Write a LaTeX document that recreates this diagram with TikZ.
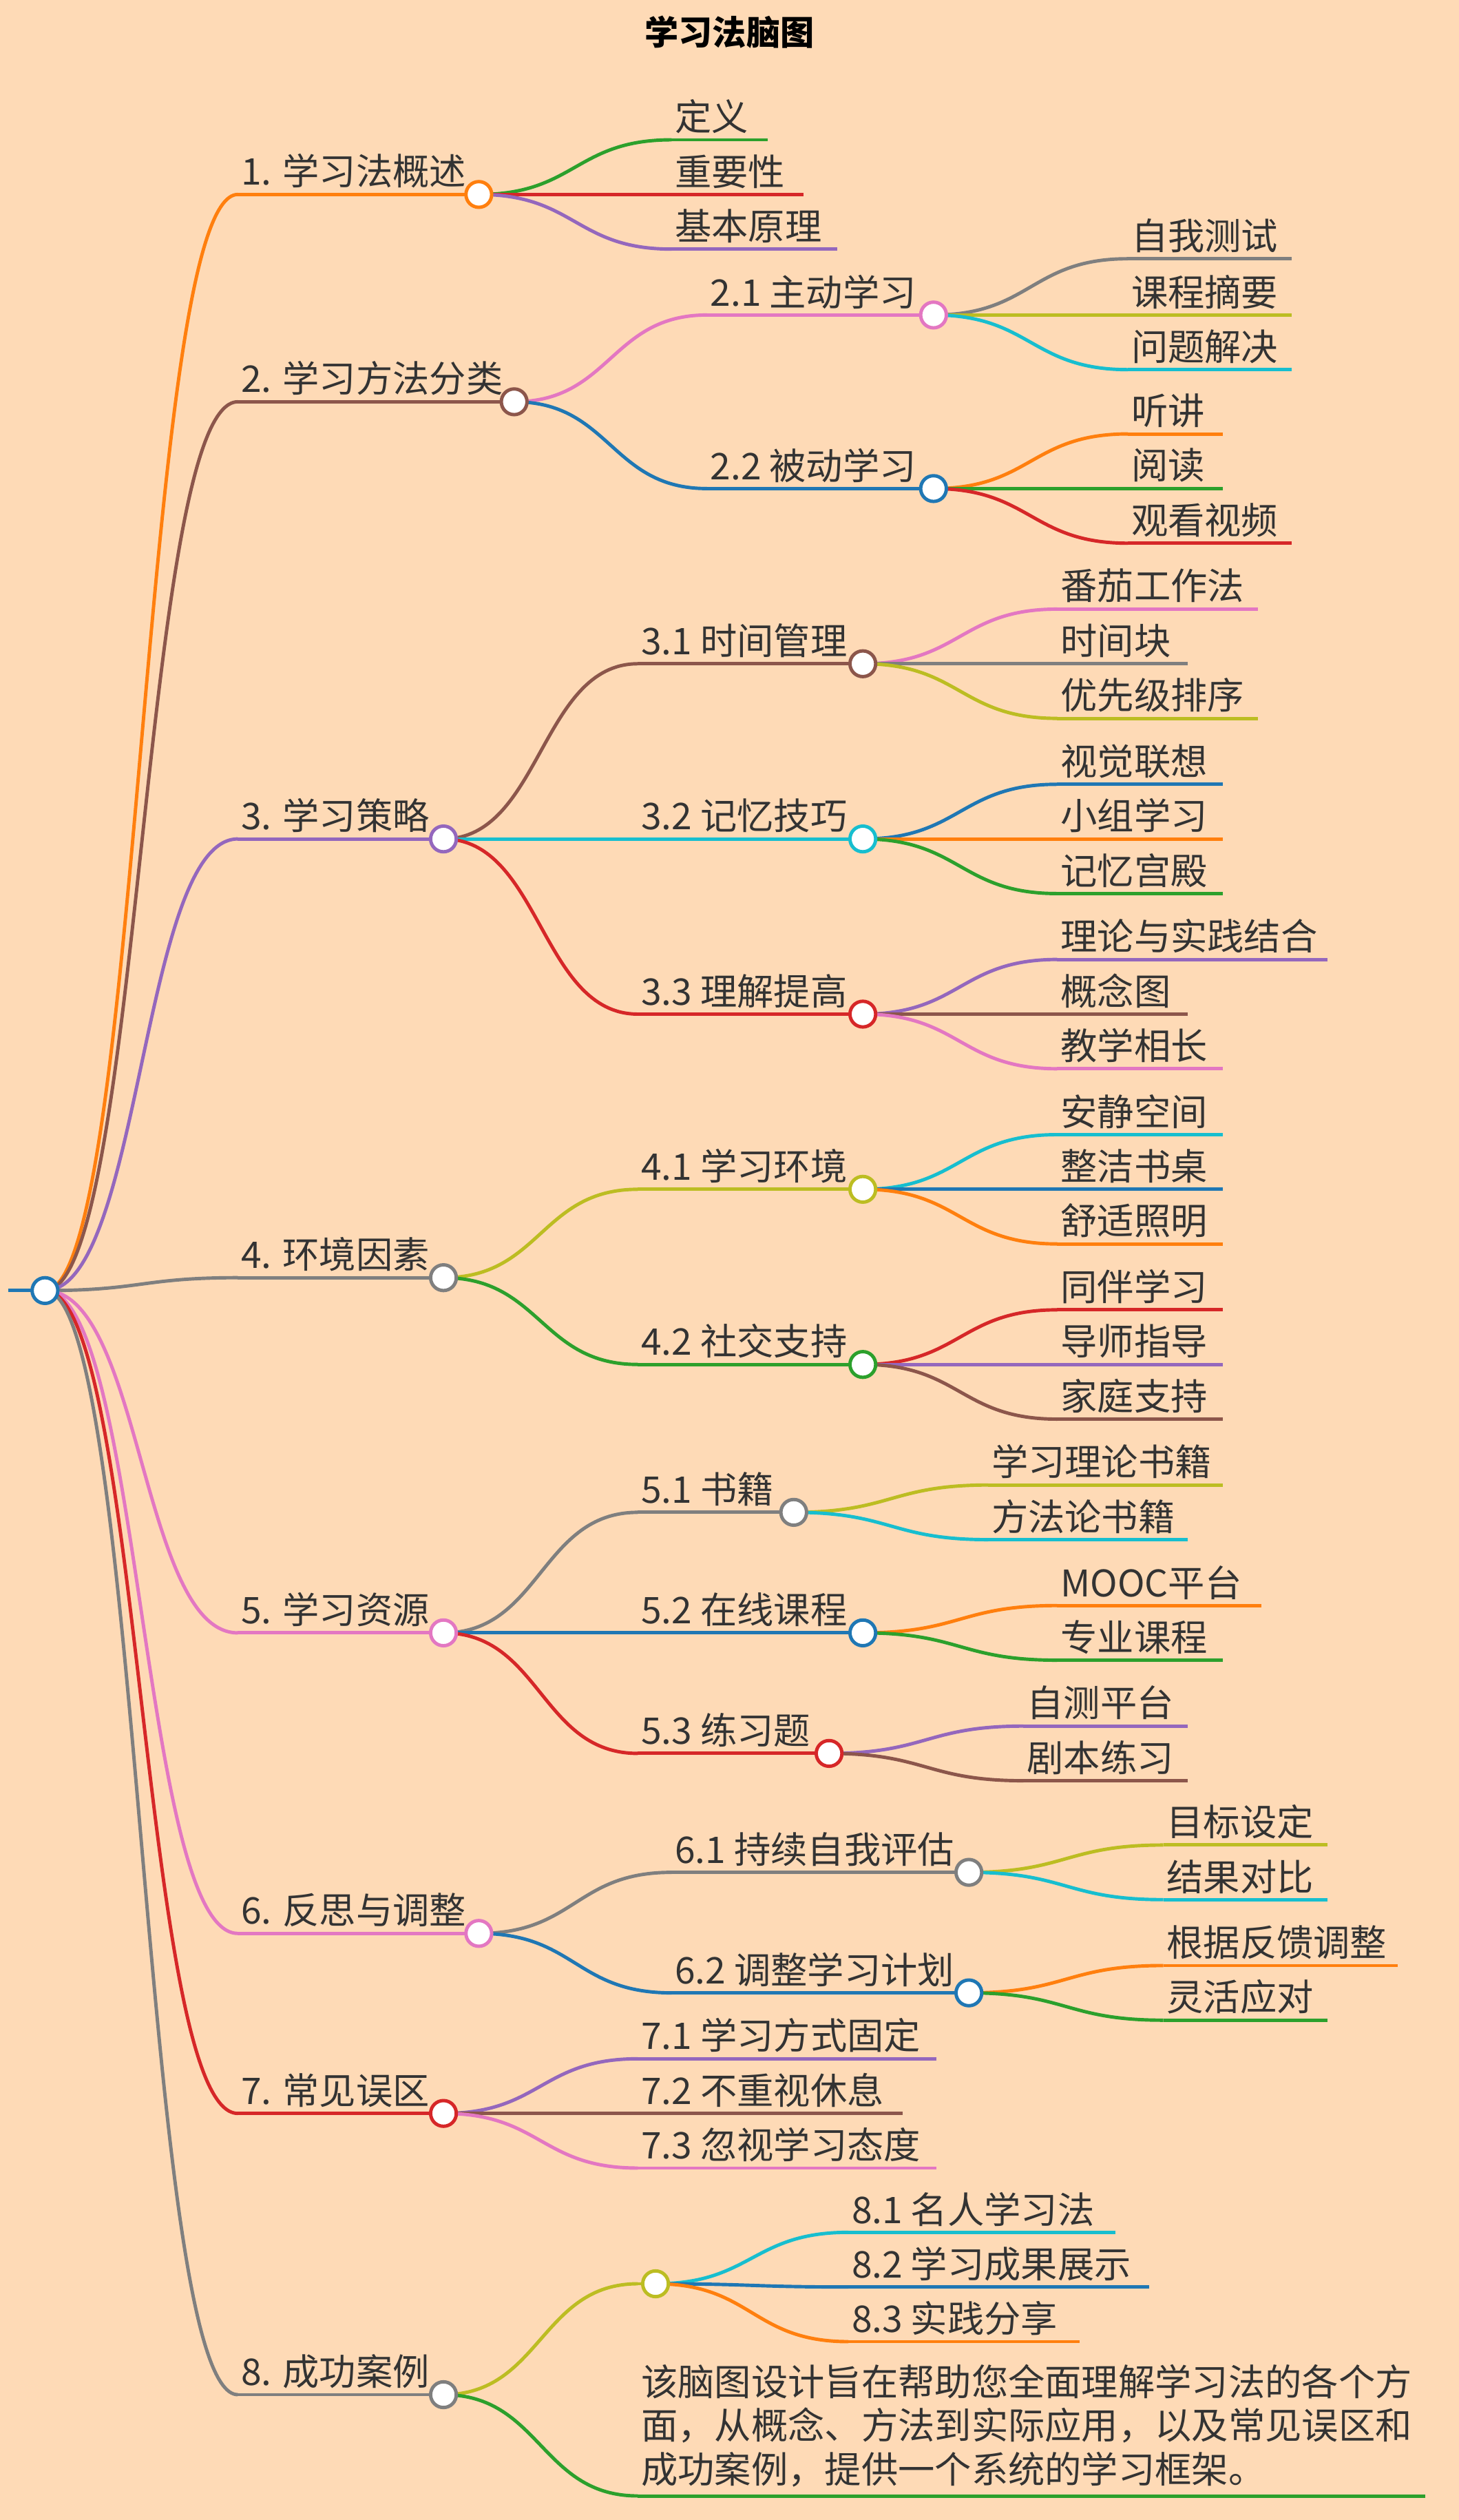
\documentclass[tikz,border=0pt]{standalone}
\usepackage{fontspec}
\setmainfont{Noto Sans CJK SC}
\usetikzlibrary{calc}
\definecolor{bgpeach}{HTML}{FEDAB6}
\definecolor{cOrange}{HTML}{FF7F0E}
\definecolor{cBrown}{HTML}{8C564B}
\definecolor{cPurple}{HTML}{9467BD}
\definecolor{cGray}{HTML}{7F7F7F}
\definecolor{cPink}{HTML}{E377C2}
\definecolor{cRed}{HTML}{D62728}
\definecolor{cGreen}{HTML}{2CA02C}
\definecolor{cBlue}{HTML}{1F77B4}
\definecolor{cOlive}{HTML}{BCBD22}
\definecolor{cCyan}{HTML}{17BECF}
\definecolor{txt}{HTML}{333333}
\tikzset{
  lbl/.style={font=\fontsize{13}{16}\selectfont, text=txt, inner sep=1pt, anchor=south west},
  edge/.style={line width=1.2pt},
  dot/.style={line width=1.2pt}
}
% one entry: line under its text
\newcommand\mmnode[6]{%
  \coordinate (#1-s) at (#2,#4); \coordinate (#1) at (#3,#4);
  \draw[edge,#5] (#1-s) -- (#1);
  \node[lbl] (#1-t) at ([yshift=1pt]#1-s) {#6};}
\newcommand\mmlink[3]{\draw[edge,#3] let \p1=(#1), \p2=(#2-s) in
  (#1) .. controls (\x1/2+\x2/2,\y1) and (\x1/2+\x2/2,\y2) .. (#2-s);}
\newcommand\mmdot[2]{\draw[dot,#2,fill=white] (#1) circle (8);}
\begin{document}
\begin{tikzpicture}[x=0.02cm,y=-0.02cm]
  \useasboundingbox (0,0) rectangle (908,1568);
  \fill[bgpeach] (0,0) rectangle (908,1568);
  \node[font=\bfseries\fontsize{12}{14}\selectfont] (title) at (454,20) {学习法脑图};

  % root
  \coordinate (r-s) at (5,803); \coordinate (r) at (28,803);
  \draw[edge,cBlue] (r-s) -- (r);

  % level 1
  \mmnode{a}{148}{298}{121}{cOrange}{1. 学习法概述}
  \mmnode{b}{148}{320}{250}{cBrown}{2. 学习方法分类}
  \mmnode{c}{148}{276}{522}{cPurple}{3. 学习策略}
  \mmnode{d}{148}{276}{795}{cGray}{4. 环境因素}
  \mmnode{e}{148}{276}{1016}{cPink}{5. 学习资源}
  \mmnode{f}{148}{298}{1203}{cPink}{6. 反思与调整}
  \mmnode{g}{148}{276}{1315}{cRed}{7. 常见误区}
  \mmnode{h}{148}{276}{1490}{cGray}{8. 成功案例}
  \mmlink{r}{a}{cOrange} \mmlink{r}{b}{cBrown} \mmlink{r}{c}{cPurple}
  \mmlink{r}{d}{cGray} \mmlink{r}{e}{cPink} \mmlink{r}{f}{cPink}
  \mmlink{r}{g}{cRed} \mmlink{r}{h}{cGray}

  % 1
  \mmnode{a1}{418}{478}{87}{cGreen}{定义}
  \mmnode{a2}{418}{500}{121}{cRed}{重要性}
  \mmnode{a3}{418}{521}{155}{cPurple}{基本原理}
  \mmlink{a}{a1}{cGreen} \mmlink{a}{a2}{cRed} \mmlink{a}{a3}{cPurple}

  % 2
  \mmnode{b1}{440}{581}{196}{cPink}{2.1 主动学习}
  \mmnode{b2}{440}{581}{304}{cBlue}{2.2 被动学习}
  \mmlink{b}{b1}{cPink} \mmlink{b}{b2}{cBlue}
  \mmnode{b11}{702}{804}{161}{cGray}{自我测试}
  \mmnode{b12}{702}{804}{196}{cOlive}{课程摘要}
  \mmnode{b13}{702}{804}{230}{cCyan}{问题解决}
  \mmlink{b1}{b11}{cGray} \mmlink{b1}{b12}{cOlive} \mmlink{b1}{b13}{cCyan}
  \mmnode{b21}{702}{761}{270}{cOrange}{听讲}
  \mmnode{b22}{702}{761}{304}{cGreen}{阅读}
  \mmnode{b23}{702}{804}{338}{cRed}{观看视频}
  \mmlink{b2}{b21}{cOrange} \mmlink{b2}{b22}{cGreen} \mmlink{b2}{b23}{cRed}

  % 3
  \mmnode{c1}{397}{537}{413}{cBrown}{3.1 时间管理}
  \mmnode{c2}{397}{537}{522}{cCyan}{3.2 记忆技巧}
  \mmnode{c3}{397}{537}{631}{cRed}{3.3 理解提高}
  \mmlink{c}{c1}{cBrown} \mmlink{c}{c2}{cCyan} \mmlink{c}{c3}{cRed}
  \mmnode{c11}{658}{783}{379}{cPink}{番茄工作法}
  \mmnode{c12}{658}{739}{413}{cGray}{时间块}
  \mmnode{c13}{658}{783}{447}{cOlive}{优先级排序}
  \mmlink{c1}{c11}{cPink} \mmlink{c1}{c12}{cGray} \mmlink{c1}{c13}{cOlive}
  \mmnode{c21}{658}{761}{488}{cBlue}{视觉联想}
  \mmnode{c22}{658}{761}{522}{cOrange}{小组学习}
  \mmnode{c23}{658}{761}{556}{cGreen}{记忆宫殿}
  \mmlink{c2}{c21}{cBlue} \mmlink{c2}{c22}{cOrange} \mmlink{c2}{c23}{cGreen}
  \mmnode{c31}{658}{826}{597}{cPurple}{理论与实践结合}
  \mmnode{c32}{658}{739}{631}{cBrown}{概念图}
  \mmnode{c33}{658}{761}{665}{cPink}{教学相长}
  \mmlink{c3}{c31}{cPurple} \mmlink{c3}{c32}{cBrown} \mmlink{c3}{c33}{cPink}

  % 4
  \mmnode{d1}{397}{537}{740}{cOlive}{4.1 学习环境}
  \mmnode{d2}{397}{537}{849}{cGreen}{4.2 社交支持}
  \mmlink{d}{d1}{cOlive} \mmlink{d}{d2}{cGreen}
  \mmnode{d11}{658}{761}{706}{cCyan}{安静空间}
  \mmnode{d12}{658}{761}{740}{cBlue}{整洁书桌}
  \mmnode{d13}{658}{761}{774}{cOrange}{舒适照明}
  \mmlink{d1}{d11}{cCyan} \mmlink{d1}{d12}{cBlue} \mmlink{d1}{d13}{cOrange}
  \mmnode{d21}{658}{761}{815}{cRed}{同伴学习}
  \mmnode{d22}{658}{761}{849}{cPurple}{导师指导}
  \mmnode{d23}{658}{761}{883}{cBrown}{家庭支持}
  \mmlink{d2}{d21}{cRed} \mmlink{d2}{d22}{cPurple} \mmlink{d2}{d23}{cBrown}

  % 5
  \mmnode{e1}{397}{494}{941}{cGray}{5.1 书籍}
  \mmnode{e2}{397}{537}{1016}{cBlue}{5.2 在线课程}
  \mmnode{e3}{397}{516}{1091}{cRed}{5.3 练习题}
  \mmlink{e}{e1}{cGray} \mmlink{e}{e2}{cBlue} \mmlink{e}{e3}{cRed}
  \mmnode{e11}{615}{761}{924}{cOlive}{学习理论书籍}
  \mmnode{e12}{615}{739}{958}{cCyan}{方法论书籍}
  \mmlink{e1}{e11}{cOlive} \mmlink{e1}{e12}{cCyan}
  \mmnode{e21}{658}{785}{999}{cOrange}{MOOC平台}
  \mmnode{e22}{658}{761}{1033}{cGreen}{专业课程}
  \mmlink{e2}{e21}{cOrange} \mmlink{e2}{e22}{cGreen}
  \mmnode{e31}{637}{739}{1074}{cPurple}{自测平台}
  \mmnode{e32}{637}{739}{1108}{cBrown}{剧本练习}
  \mmlink{e3}{e31}{cPurple} \mmlink{e3}{e32}{cBrown}

  % 6
  \mmnode{f1}{418}{603}{1165}{cGray}{6.1 持续自我评估}
  \mmnode{f2}{418}{603}{1240}{cBlue}{6.2 调整学习计划}
  \mmlink{f}{f1}{cGray} \mmlink{f}{f2}{cBlue}
  \mmnode{f11}{724}{826}{1148}{cOlive}{目标设定}
  \mmnode{f12}{724}{826}{1182}{cCyan}{结果对比}
  \mmlink{f1}{f11}{cOlive} \mmlink{f1}{f12}{cCyan}
  \mmnode{f21}{724}{870}{1223}{cOrange}{根据反馈调整}
  \mmnode{f22}{724}{826}{1257}{cGreen}{灵活应对}
  \mmlink{f2}{f21}{cOrange} \mmlink{f2}{f22}{cGreen}

  % 7
  \mmnode{g1}{397}{583}{1281}{cPurple}{7.1 学习方式固定}
  \mmnode{g2}{397}{562}{1315}{cBrown}{7.2 不重视休息}
  \mmnode{g3}{397}{583}{1349}{cPink}{7.3 忽视学习态度}
  \mmlink{g}{g1}{cPurple} \mmlink{g}{g2}{cBrown} \mmlink{g}{g3}{cPink}

  % 8
  \mmnode{h1}{397}{408}{1421}{cOlive}{}
  \mmnode{h2}{397}{887}{1553}{cGreen}{}
  \mmlink{h}{h1}{cOlive} \mmlink{h}{h2}{cGreen}
  \node[lbl, align=left, font=\fontsize{13}{15.5}\selectfont] (h2-p) at ([yshift=2pt]h2-s)
    {该脑图设计旨在帮助您全面理解学习法的各个方\\面，从概念、方法到实际应用，以及常见误区和\\成功案例，提供一个系统的学习框架。};
  \mmnode{h11}{528}{694}{1389}{cCyan}{8.1 名人学习法}
  \mmnode{h12}{528}{715}{1423}{cBlue}{8.2 学习成果展示}
  \mmnode{h13}{528}{672}{1457}{cOrange}{8.3 实践分享}
  \mmlink{h1}{h11}{cCyan} \mmlink{h1}{h12}{cBlue} \mmlink{h1}{h13}{cOrange}

  % dots
  \mmdot{r}{cBlue}
  \mmdot{a}{cOrange} \mmdot{b}{cBrown} \mmdot{c}{cPurple} \mmdot{d}{cGray}
  \mmdot{e}{cPink} \mmdot{f}{cPink} \mmdot{g}{cRed} \mmdot{h}{cGray}
  \mmdot{b1}{cPink} \mmdot{b2}{cBlue}
  \mmdot{c1}{cBrown} \mmdot{c2}{cCyan} \mmdot{c3}{cRed}
  \mmdot{d1}{cOlive} \mmdot{d2}{cGreen}
  \mmdot{e1}{cGray} \mmdot{e2}{cBlue} \mmdot{e3}{cRed}
  \mmdot{f1}{cGray} \mmdot{f2}{cBlue}
  \mmdot{h1}{cOlive}
\end{tikzpicture}
\end{document}
